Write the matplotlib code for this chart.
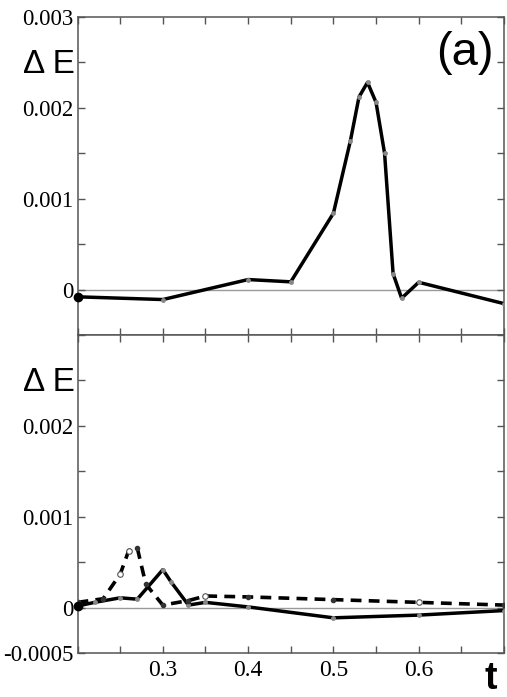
import numpy as np
import matplotlib
matplotlib.use('Agg')
import matplotlib.pyplot as plt

# top panel (a): solid curve
t_top = [0.2, 0.3, 0.4, 0.45, 0.5, 0.52, 0.53, 0.54, 0.55, 0.56, 0.57, 0.58, 0.6, 0.7]
dE_top = [-0.00008, -0.00011, 0.00011, 0.000085, 0.00084, 0.00164, 0.00212, 0.00228,
          0.00206, 0.0015, 0.000175, -0.000095, 0.00008, -0.000155]

# bottom panel: solid curve
t_sol = [0.2, 0.22, 0.25, 0.27, 0.3, 0.31, 0.33, 0.35, 0.4, 0.5, 0.6, 0.7]
dE_sol = [0.00002, 0.00006, 0.00011, 0.000095, 0.00042, 0.00028, 0.00003, 0.00006,
          0.00001, -0.00011, -0.00008, -0.00003]

# bottom panel: dashed curve (open markers where flagged)
t_dash = [0.2, 0.23, 0.25, 0.26, 0.27, 0.28, 0.3, 0.33, 0.35, 0.4, 0.5, 0.6, 0.7]
dE_dash = [0.00006, 0.0001, 0.00037, 0.00063, 0.00066, 0.00026, 0.00003, 0.00008,
           0.00013, 0.00012, 0.00009, 0.00006, 0.00003]
dash_open = [False, False, True, True, False, False, False, False, True, False, False, True, False]

yticks = [-0.0005, 0, 0.0005, 0.001, 0.0015, 0.002, 0.0025, 0.003]
xticks = [0.2, 0.25, 0.3, 0.35, 0.4, 0.45, 0.5, 0.55, 0.6, 0.65, 0.7]

serif = 'Liberation Serif'
sans = 'Liberation Sans'
spine_c = '#555555'

fig = plt.figure(figsize=(5.07, 6.97), dpi=100)
ax1 = fig.add_axes([0.153, 0.5194, 0.841, 0.4562])
ax2 = fig.add_axes([0.153, 0.0627, 0.841, 0.4567])


def style(ax, ylabels):
    ax.set_xlim(0.2, 0.7)
    ax.set_ylim(-0.0005, 0.003)
    ax.axhline(0, color='#999999', lw=1, zorder=1)
    ax.set_yticks(yticks)
    ax.set_yticklabels([ylabels.get(v, '') for v in yticks], fontfamily=serif, fontsize=16.5)
    ax.set_xticks(xticks)
    ax.tick_params(direction='in', length=5, width=1, color=spine_c,
                   top=True, right=True, pad=3)
    for s in ax.spines.values():
        s.set_color(spine_c)
        s.set_linewidth(1.1)
    ax.text(-0.128, 0.85, 'Δ E', transform=ax.transAxes, fontfamily=sans,
            fontsize=24, ha='left', va='center')


style(ax1, {0: '0', 0.001: '0.001', 0.002: '0.002', 0.003: '0.003'})
ax1.set_xticklabels([])
ax1.plot(t_top, dE_top, color='black', lw=2.5, marker='o', ms=2.5, mfc='#888888',
         mec='#888888', zorder=3)
ax1.plot(t_top[0], dE_top[0], 'o', color='black', ms=6, zorder=4, clip_on=False)
ax1.text(0.975, 0.955, '(a)', transform=ax1.transAxes, fontfamily=sans, fontsize=34,
         ha='right', va='top')

style(ax2, {-0.0005: '-0.0005', 0: '0', 0.001: '0.001', 0.002: '0.002'})
xl = {0.3: '0.3', 0.4: '0.4', 0.5: '0.5', 0.6: '0.6'}
ax2.set_xticklabels([xl.get(v, '') for v in xticks], fontfamily=serif, fontsize=17)
ax2.tick_params(axis='x', pad=5)

t_dash = np.array(t_dash)
dE_dash = np.array(dE_dash)
dash_open = np.array(dash_open)
ax2.plot(t_dash, dE_dash, color='black', lw=2.6, ls=(0, (3, 2)), zorder=3)
ax2.plot(t_dash[~dash_open], dE_dash[~dash_open], 'o', color='#333333', ms=3, zorder=4)
ax2.plot(t_dash[dash_open], dE_dash[dash_open], 'o', mfc='white', mec='#555555',
         ms=4, mew=0.8, zorder=4)
ax2.plot(t_sol, dE_sol, color='black', lw=2.5, marker='o', ms=2.5, mfc='#888888',
         mec='#888888', zorder=3)
ax2.plot(t_sol[0], dE_sol[0], 'o', color='black', ms=6, zorder=5, clip_on=False)

ax2.text(0.684, -0.00059, 't', fontfamily=sans, fontsize=27, fontweight='bold',
         ha='center', va='top', transform=ax2.transData)

fig.savefig('out.png', dpi=100)
